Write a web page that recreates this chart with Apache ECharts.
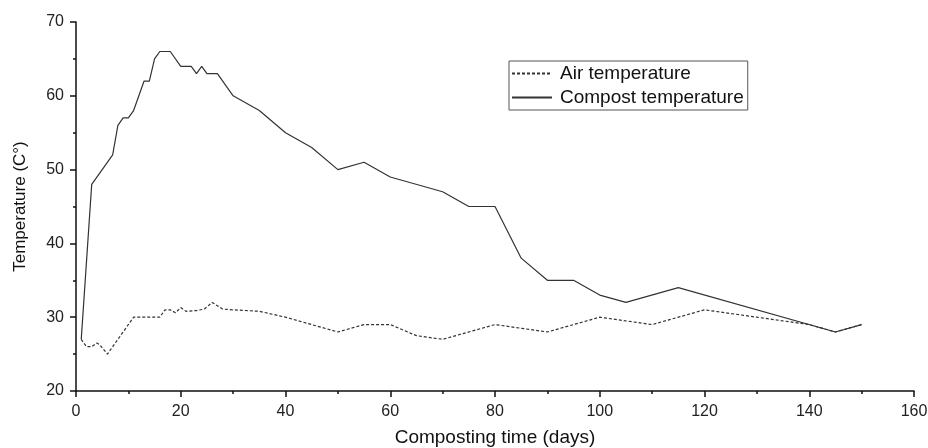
<!DOCTYPE html>
<html>
<head>
<meta charset="utf-8">
<script src="https://cdn.jsdelivr.net/npm/echarts@6/dist/echarts.min.js"></script>
<style>
html,body{margin:0;padding:0;background:#fff;}
#chart{width:928px;height:448px;}
</style>
</head>
<body>
<div id="chart"></div>
<script>
// Data
var seriesNames = ['Air temperature', 'Compost temperature'];
var airDays = [1, 2, 3, 4, 4.5, 6, 11, 16, 17, 18, 19, 20, 21, 23, 24.5, 26, 28, 30, 35, 40, 50, 55, 60, 65, 70, 80, 90, 100, 110, 120, 130, 140, 145, 150];
var airTemp = [27, 26, 26, 26.5, 26.3, 25, 30, 30, 31, 31, 30.6, 31.3, 30.8, 30.9, 31.1, 32, 31.1, 31, 30.8, 30, 28, 29, 29, 27.5, 27, 29, 28, 30, 29, 31, 30, 29, 28, 29];
var compostDays = [1, 3, 7, 8, 9, 10, 11, 13, 14, 15, 16, 18, 20, 22, 23, 24, 25, 27, 30, 35, 40, 45, 50, 55, 60, 70, 75, 80, 85, 90, 95, 100, 105, 115, 145, 150];
var compostTemp = [27, 48, 52, 56, 57, 57, 58, 62, 62, 65, 66, 66, 64, 64, 63, 64, 63, 63, 60, 58, 55, 53, 50, 51, 49, 47, 45, 45, 38, 35, 35, 33, 32, 34, 28, 29];
var xTicks = [0, 20, 40, 60, 80, 100, 120, 140, 160];
var yTicks = [20, 30, 40, 50, 60, 70];

function zip(a, b) { return a.map(function (v, i) { return [v, b[i]]; }); }

var chart = echarts.init(document.getElementById('chart'));
var font = 'Liberation Sans, Arial, sans-serif';
chart.setOption({
  backgroundColor: '#fff',
  animation: false,
  grid: { left: 76, right: 14, top: 22, bottom: 57, containLabel: false, outerBoundsMode: 'none' },
  legend: {
    orient: 'vertical',
    left: 509, top: 61,
    padding: [3, 4, 3, 2],
    borderColor: '#555', borderWidth: 1,
    itemWidth: 40, itemHeight: 10, itemGap: 5,
    itemStyle: { opacity: 0 },
    textStyle: { fontFamily: font, fontSize: 19, color: '#111', padding: [0, 0, 0, 3] },
    data: seriesNames
  },
  xAxis: {
    type: 'value', min: xTicks[0], max: xTicks[xTicks.length - 1], interval: 20,
    name: 'Composting time (days)', nameLocation: 'middle', nameGap: 37,
    nameTextStyle: { fontFamily: font, fontSize: 19, color: '#111' },
    axisLine: { show: true, lineStyle: { color: '#111', width: 1.5 } },
    axisTick: { show: true, length: 6, lineStyle: { color: '#111', width: 1.5 } },
    minorTick: { show: true, splitNumber: 2, length: 3, lineStyle: { color: '#111', width: 1.5 } },
    axisLabel: { fontFamily: font, fontSize: 16, color: '#222', margin: 13 },
    splitLine: { show: false }
  },
  yAxis: {
    type: 'value', min: yTicks[0], max: yTicks[yTicks.length - 1], interval: 10,
    name: 'Temperature (C°)', nameLocation: 'middle', nameGap: 47,
    nameTextStyle: { fontFamily: font, fontSize: 17, color: '#111' },
    axisLine: { show: true, lineStyle: { color: '#111', width: 1.5 } },
    axisTick: { show: true, length: 6, lineStyle: { color: '#111', width: 1.5 } },
    minorTick: { show: true, splitNumber: 2, length: 3, lineStyle: { color: '#111', width: 1.5 } },
    axisLabel: { fontFamily: font, fontSize: 16, color: '#222', margin: 12 },
    splitLine: { show: false }
  },
  series: [
    {
      name: seriesNames[0], type: 'line', symbol: 'none',
      data: zip(airDays, airTemp),
      lineStyle: { color: '#333', width: 1.2, type: [3, 2] },
      itemStyle: { color: '#333' }
    },
    {
      name: seriesNames[1], type: 'line', symbol: 'none',
      data: zip(compostDays, compostTemp),
      lineStyle: { color: '#333', width: 1.2, type: 'solid' },
      itemStyle: { color: '#333' }
    }
  ]
});
</script>
</body>
</html>
